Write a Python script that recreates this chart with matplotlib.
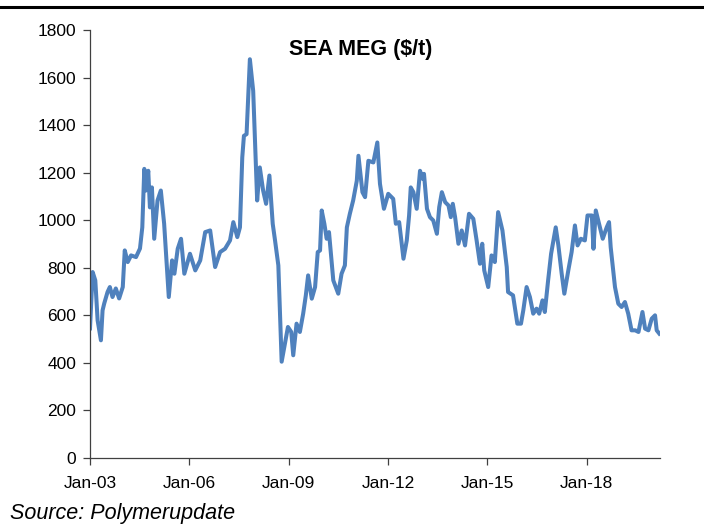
import numpy as np
import matplotlib
matplotlib.use("Agg")
from matplotlib import pyplot as plt
from matplotlib.lines import Line2D

# SEA MEG price, $/t (time in decimal years)
years = [
    2003.00, 2003.08, 2003.16, 2003.23, 2003.33, 2003.38, 2003.43, 2003.53, 2003.60, 2003.68,
    2003.78, 2003.88, 2003.99, 2004.05, 2004.14, 2004.24, 2004.39, 2004.51, 2004.58, 2004.64,
    2004.69, 2004.76, 2004.81, 2004.87, 2004.94, 2005.04, 2005.14, 2005.24, 2005.38, 2005.48,
    2005.55, 2005.65, 2005.75, 2005.85, 2006.02, 2006.18, 2006.33, 2006.48, 2006.63, 2006.78,
    2006.93, 2007.08, 2007.23, 2007.33, 2007.45, 2007.53, 2007.60, 2007.65, 2007.73, 2007.83,
    2007.93, 2008.05, 2008.13, 2008.23, 2008.32, 2008.42, 2008.52, 2008.59, 2008.69, 2008.79,
    2008.89, 2008.98, 2009.08, 2009.14, 2009.24, 2009.34, 2009.44, 2009.52, 2009.59, 2009.70,
    2009.80, 2009.88, 2009.95, 2010.00, 2010.08, 2010.15, 2010.22, 2010.35, 2010.50, 2010.60,
    2010.70, 2010.76, 2010.85, 2010.95, 2011.06, 2011.11, 2011.23, 2011.31, 2011.41, 2011.56,
    2011.68, 2011.76, 2011.88, 2012.01, 2012.16, 2012.24, 2012.34, 2012.47, 2012.57, 2012.64,
    2012.69, 2012.77, 2012.87, 2012.97, 2013.05, 2013.09, 2013.18, 2013.27, 2013.37, 2013.48,
    2013.55, 2013.63, 2013.73, 2013.83, 2013.90, 2013.96, 2014.03, 2014.13, 2014.23, 2014.33,
    2014.45, 2014.58, 2014.68, 2014.78, 2014.85, 2014.91, 2015.03, 2015.13, 2015.23, 2015.33,
    2015.46, 2015.59, 2015.63, 2015.78, 2015.91, 2016.02, 2016.09, 2016.19, 2016.29, 2016.39,
    2016.49, 2016.57, 2016.67, 2016.74, 2016.84, 2016.93, 2017.00, 2017.07, 2017.15, 2017.25,
    2017.33, 2017.45, 2017.55, 2017.65, 2017.73, 2017.83, 2017.95, 2018.03, 2018.16, 2018.21,
    2018.28, 2018.38, 2018.49, 2018.61, 2018.68, 2018.73, 2018.86, 2018.96, 2019.06, 2019.16,
    2019.26, 2019.36, 2019.47, 2019.57, 2019.69, 2019.77, 2019.87, 2019.97, 2020.07, 2020.12,
    2020.20,
]
prices = [
    545, 782, 747, 579, 495, 621, 650, 698, 719, 677,
    713, 671, 719, 873, 824, 852, 845, 881, 970, 1216,
    1125, 1208, 1054, 1138, 922, 1083, 1125, 985, 677, 831,
    775, 880, 922, 775, 859, 789, 831, 950, 957, 803,
    866, 880, 915, 992, 929, 970, 1264, 1355, 1362, 1677,
    1544, 1083, 1222, 1125, 1069, 1188, 985, 915, 810, 405,
    481, 551, 530, 432, 565, 530, 607, 684, 768, 670,
    719, 866, 873, 1041, 985, 922, 950, 747, 691, 775,
    810, 970, 1027, 1083, 1166, 1271, 1118, 1097, 1250, 1243,
    1327, 1153, 1048, 1111, 1090, 985, 992, 838, 915, 1020,
    1138, 1118, 1048, 1208, 1174, 1195, 1048, 1013, 999, 943,
    1055, 1118, 1076, 1062, 1013, 1069, 1013, 901, 957, 894,
    1027, 1006, 915, 817, 901, 789, 719, 852, 824, 1034,
    957, 803, 698, 684, 565, 565, 621, 719, 677, 607,
    628, 607, 663, 614, 747, 859, 915, 970, 894, 775,
    691, 789, 866, 978, 894, 922, 915, 1020, 1020, 880,
    1041, 985, 922, 970, 992, 887, 719, 649, 635, 656,
    607, 537, 537, 530, 614, 544, 537, 586, 600, 537,
    523,
]

x_ticks = [2003, 2006, 2009, 2012, 2015, 2018]
x_labels = ["Jan-03", "Jan-06", "Jan-09", "Jan-12", "Jan-15", "Jan-18"]
y_ticks = np.arange(0, 1801, 200)

plt.rcParams["font.family"] = ["Liberation Sans", "DejaVu Sans"]

fig = plt.figure(figsize=(7.04, 5.24), dpi=100)
ax = fig.add_axes([90 / 704, 1 - 458 / 524, 570 / 704, 428 / 524])

ax.plot(years, prices, color="#4F81BD", linewidth=2.9, solid_joinstyle="round")

ax.set_xlim(2003, 2020.22)
ax.set_ylim(0, 1800)
ax.set_xticks(x_ticks)
ax.set_xticklabels(x_labels)
ax.set_yticks(y_ticks)

for side in ("top", "right"):
    ax.spines[side].set_visible(False)
for side in ("left", "bottom"):
    ax.spines[side].set_color("#404040")
    ax.spines[side].set_linewidth(0.9)
ax.tick_params(axis="both", direction="out", length=5, width=0.9, color="#404040",
               labelsize=12.5, labelcolor="black")
ax.tick_params(axis="y", pad=5)
ax.tick_params(axis="x", pad=8)

ax.text(0.475, 0.955, "SEA MEG ($/t)", transform=ax.transAxes, ha="center", va="center",
        fontsize=15.5, fontweight="bold")

fig.text(10 / 704, 1 - 513 / 524, "Source: Polymerupdate", ha="left", va="center",
         fontsize=15.5, style="italic")

# rule across the top of the figure
fig.add_artist(Line2D([0, 1], [1 - 7 / 524, 1 - 7 / 524], transform=fig.transFigure,
                      color="black", linewidth=2.2))

fig.savefig("out.png", dpi=100)
